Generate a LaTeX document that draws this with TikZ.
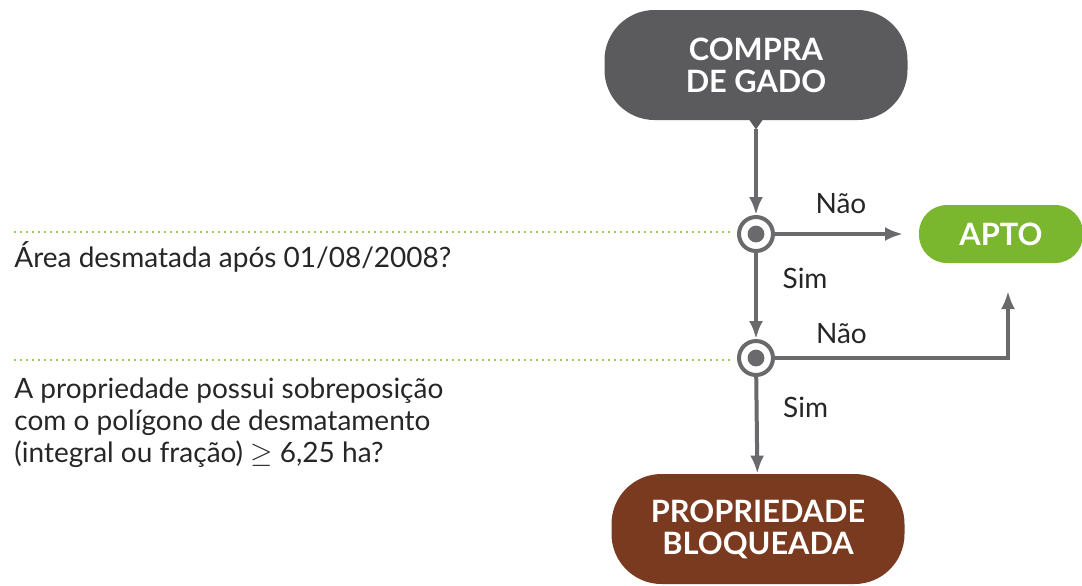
\documentclass[tikz,border=0pt]{standalone}
\usepackage{fontspec}
\setmainfont{Lato}
\usetikzlibrary{arrows.meta,positioning,calc}
\definecolor{cinza}{HTML}{5B5B5D}
\definecolor{linha}{HTML}{6A6A6C}
\definecolor{verde}{HTML}{7BB62F}
\definecolor{marrom}{HTML}{7A3A1F}
\definecolor{pontos}{HTML}{9BC95A}

\begin{document}
\begin{tikzpicture}[x=0.5pt,y=-0.5pt,
		pilula/.style={rounded corners=25pt, minimum height=55pt, align=center, text=white, font=\bfseries\fontsize{15.4}{16}\selectfont},
		decisao/.style={circle, draw=linha, line width=2pt, fill=white, minimum size=17pt, inner sep=0pt},
		seta/.style={draw=linha, line width=2pt, -{Latex[length=9pt,width=7pt]}},
		rotulo/.style={font=\fontsize{14}{16.2}\selectfont, text=black!85},
		pontilhado/.style={draw=pontos, line width=1pt, dotted}]
		\useasboundingbox (0,0) rectangle (1082,585);
		% caixas
		\node[pilula, fill=cinza, minimum width=151.5pt] (compra) at (756,65) {COMPRA\\DE GADO};
		\fill[cinza] ($(compra.south)+(-7,-1)$) -- ++(14,0) -- ++(-7,10) -- cycle;
		\node[pilula, fill=verde, minimum width=82pt, minimum height=29pt, rounded corners=14pt] (apto) at (1001,234) {APTO};
		\node[pilula, fill=marrom, minimum width=146.5pt] (bloqueada) at (758,529) {PROPRIEDADE\\BLOQUEADA};
		% decisoes
		\node[decisao] (q1) at (756,234) {};
		\node[decisao] (q2) at (756,358) {};
		\foreach \q in {q1, q2}
		\fill[linha] (\q) circle (4.2pt);
		\coordinate (giro) at (1008,358);
		\coordinate (fimapto) at (1008,291);
		% ligacoes
		\draw[seta] ($(compra.south)+(0,9)$) -- (q1);
		\draw[seta] (q1) -- node[rotulo, pos=0.3, anchor=west, xshift=9pt] {Sim} (q2);
		\draw[seta] (q2) -- node[rotulo, pos=0.31, anchor=west, xshift=9pt] {Sim} (bloqueada);
		\draw[seta] (q1) -- node[rotulo, pos=0.515, above=6pt] {Não} (903,234);
		\draw[seta] (q2) -- node[rotulo, pos=0.285, above=3pt] {Não} (giro) -- (fimapto);
		% perguntas
		\coordinate (p1) at (14,232);
		\coordinate (p2) at (14,360);
		\draw[pontilhado] (p1) -- ($(q1.west)+(-4,-2)$);
		\draw[pontilhado] (p2) -- ($(q2.west)+(-4,2)$);
		\node[rotulo, anchor=north west, inner sep=0pt] (t1) at (14,241) {Área desmatada após 01/08/2008?};
		\node[rotulo, anchor=north west, inner sep=0pt, align=left] (t2) at (14,377) {A propriedade possui sobreposição\\com o polígono de desmatamento\\(integral ou fração) $\geq$ 6,25 ha?};
	\end{tikzpicture}
\end{document}
